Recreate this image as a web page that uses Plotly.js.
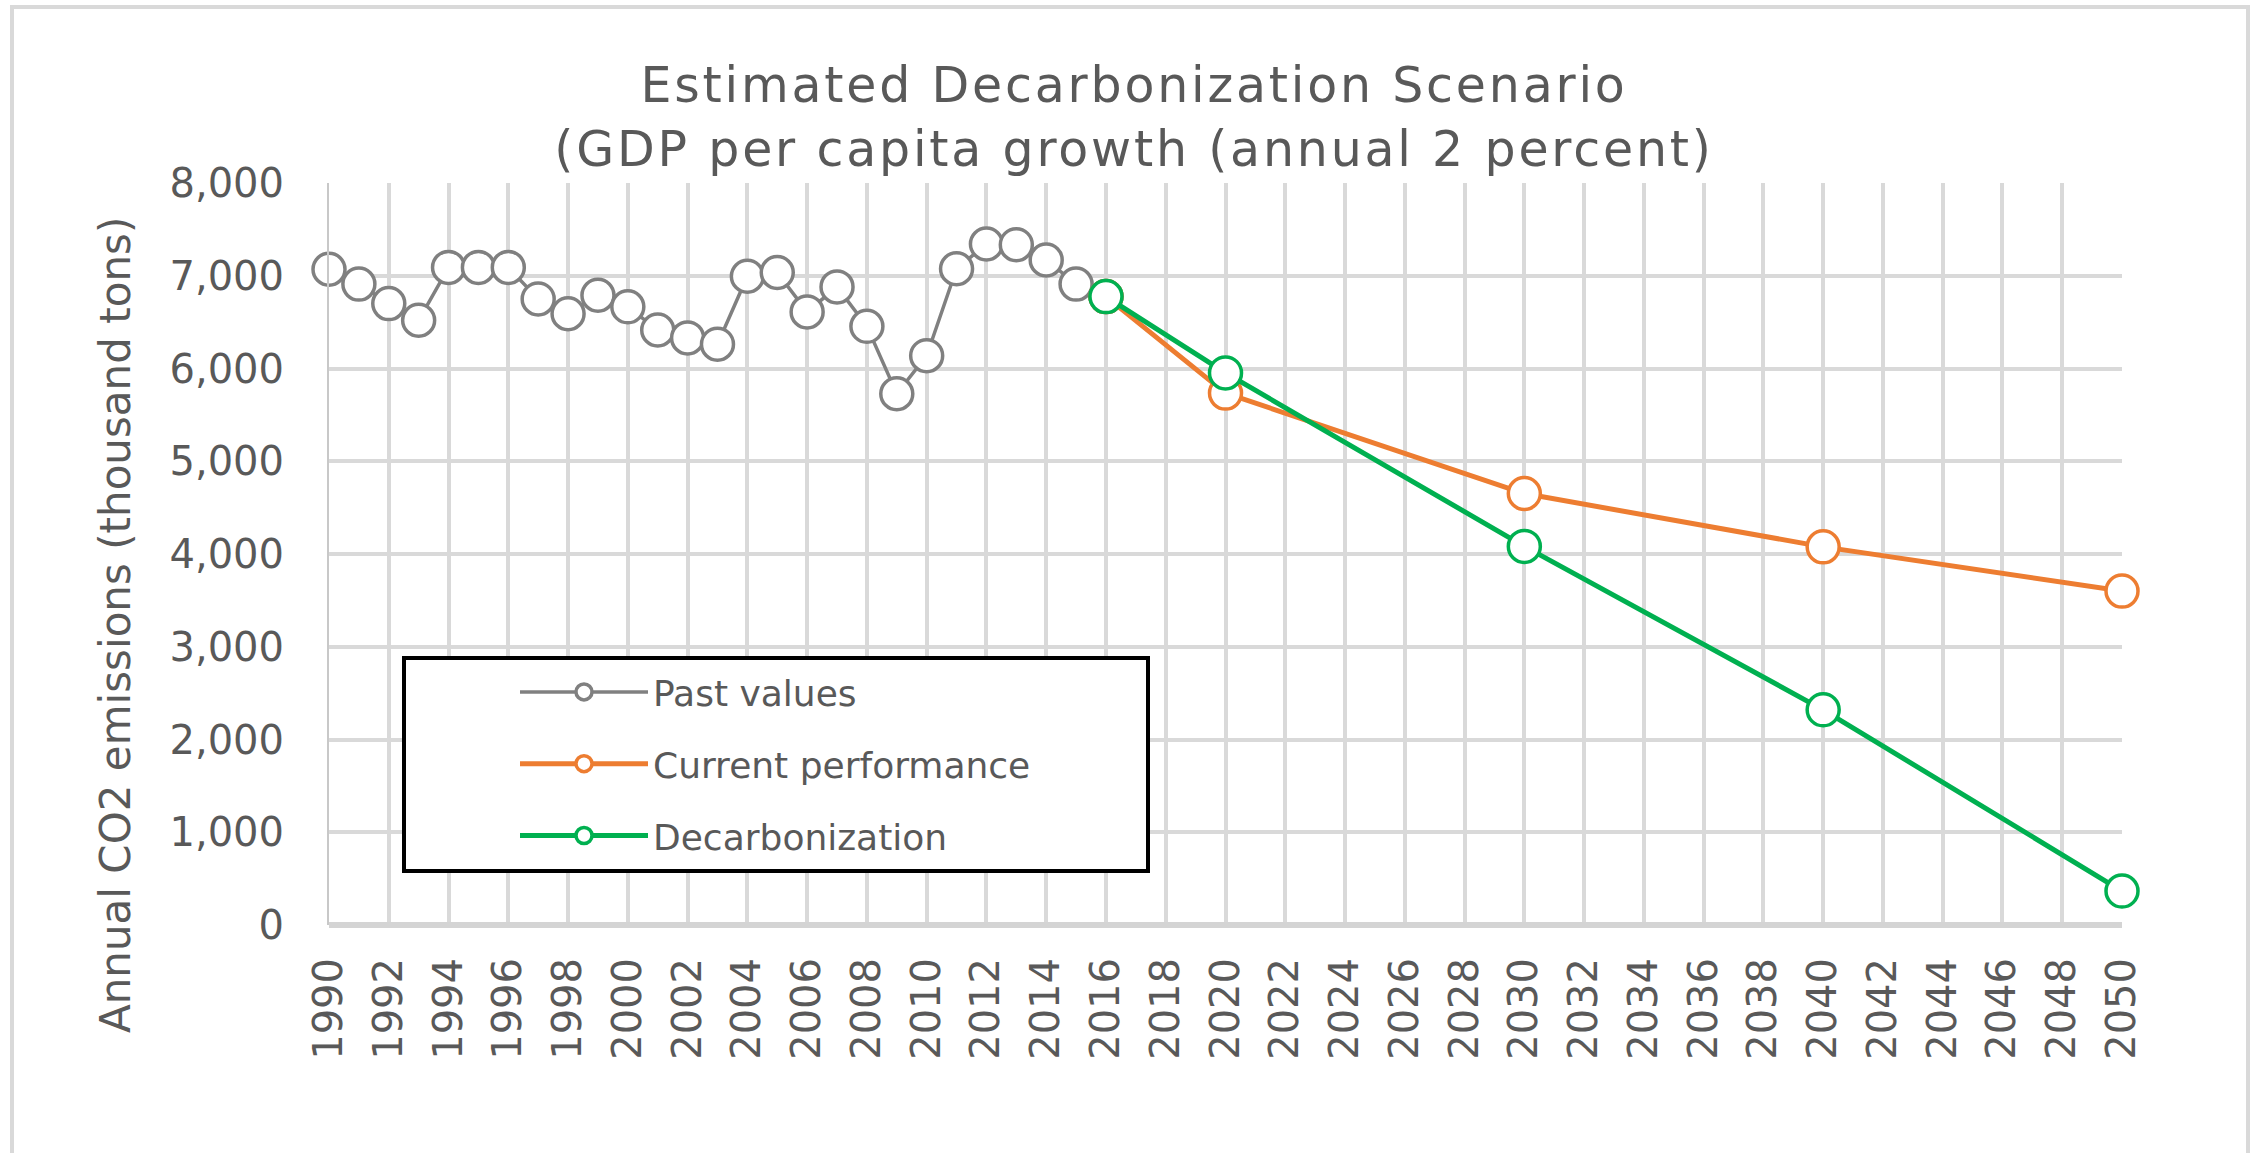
<!DOCTYPE html>
<html><head><meta charset="utf-8">
<script src="https://cdn.plot.ly/plotly-3.0.1.min.js"></script>
<style>html,body{margin:0;padding:0;background:#fff}#chart{width:2252px;height:1153px}
.gtitle{letter-spacing:2.8px}</style>
</head><body><div id="chart"></div>
<script>
// ---- data ----
const pastYears = [1990,1991,1992,1993,1994,1995,1996,1997,1998,1999,2000,2001,2002,2003,2004,2005,2006,2007,2008,2009,2010,2011,2012,2013,2014,2015,2016];
const pastValues = [7070,6910,6700,6520,7090,7090,7090,6750,6590,6790,6665,6415,6330,6262,6995,7035,6610,6880,6455,5728,6138,7075,7342,7335,7170,6910,6775];
const scenarioYears = [2016,2020,2030,2040,2050];
const currentPerformance = [6775,5735,4652,4077,3600];
const decarbonization = [6775,5952,4082,2320,366];
const seriesNames = ['Past values','Current performance','Decarbonization'];
const titleLines = ['Estimated Decarbonization Scenario','(GDP per capita growth (annual 2 percent)'];
const yAxisTitle = 'Annual CO2 emissions (thousand tons)';

// ---- layout geometry (pixels) ----
const WIDTH = 2252, HEIGHT = 1153;
const L = 329, R = 2122, T = 183, B = 925;
const PW = R - L, PH = B - T;
const px = v => (v - L) / PW;
const py = v => (B - v) / PH;

const GRAY = '#808080', ORANGE = '#ED7D31', GREEN = '#00B050';
const TXT = '#595959';

function series(x, y, name, color, lw, group) {
  return {
    type: 'scatter', mode: 'lines+markers', x: x, y: y, name: name,
    legendgroup: group,
    line: {color: color, width: lw},
    marker: {symbol: 'circle', size: 32, color: '#ffffff', line: {color: color, width: 3.5}},
    cliponaxis: false, hoverinfo: 'x+y+name'
  };
}

const data = [
  series(pastYears, pastValues, seriesNames[0], GRAY, 3.5, 'g1'),
  series(scenarioYears, currentPerformance, seriesNames[1], ORANGE, 5, 'g2'),
  series(scenarioYears, decarbonization, seriesNames[2], GREEN, 5, 'g3')
];

const layout = {
  width: WIDTH, height: HEIGHT,
  margin: {l: L, r: WIDTH - R, t: T, b: HEIGHT - B, pad: 0},
  paper_bgcolor: '#ffffff', plot_bgcolor: '#ffffff',
  title: {
    text: titleLines.join('<br>'),
    font: {family: 'DejaVu Sans', size: 49, color: TXT},
    xref: 'container', x: 1134 / WIDTH, xanchor: 'center',
    yref: 'container', y: 1 - 102 / HEIGHT, yanchor: 'top'
  },
  xaxis: {
    range: [1990, 2050], tickmode: 'linear', tick0: 1990, dtick: 2,
    tickangle: -90, showgrid: true, gridcolor: '#d9d9d9', gridwidth: 3.5,
    zeroline: false, showline: false, ticks: '', ticklabelstandoff: 24,
    tickfont: {family: 'DejaVu Sans', size: 40, color: TXT},
    fixedrange: true
  },
  yaxis: {
    range: [0, 8000], tickmode: 'linear', tick0: 0, dtick: 1000, tickformat: ',',
    showgrid: true, gridcolor: '#d9d9d9', gridwidth: 3.5,
    zeroline: true, zerolinecolor: '#d4d4d4', zerolinewidth: 6,
    showline: true, linecolor: '#c8c8c8', linewidth: 2,
    ticks: '', ticklabelstandoff: 35,
    tickfont: {family: 'DejaVu Sans', size: 40, color: TXT},
    fixedrange: true
  },
  showlegend: true,
  legend: {
    x: px(515), y: py(662), xanchor: 'left', yanchor: 'top',
    bgcolor: 'rgba(0,0,0,0)', borderwidth: 0,
    font: {family: 'DejaVu Sans', size: 36, color: TXT},
    itemwidth: 128, tracegroupgap: 22
  },
  annotations: [{
    text: yAxisTitle, textangle: -90, showarrow: false,
    xref: 'paper', yref: 'paper', x: px(115), y: py(625),
    xanchor: 'center', yanchor: 'middle',
    font: {family: 'DejaVu Sans', size: 42, color: TXT}
  }],
  shapes: [
    {type: 'rect', xref: 'paper', yref: 'paper', layer: 'below',
     x0: px(12), x1: px(2248), y0: py(1175), y1: py(7),
     line: {color: '#d9d9d9', width: 4}, fillcolor: 'rgba(0,0,0,0)'},
    {type: 'rect', xref: 'paper', yref: 'paper', layer: 'above',
     x0: px(404), x1: px(1148), y0: py(871), y1: py(658),
     line: {color: '#000000', width: 4}, fillcolor: '#ffffff'}
  ],
  hovermode: 'closest'
};

Plotly.newPlot('chart', data, layout, {displayModeBar: false});
</script></body></html>
